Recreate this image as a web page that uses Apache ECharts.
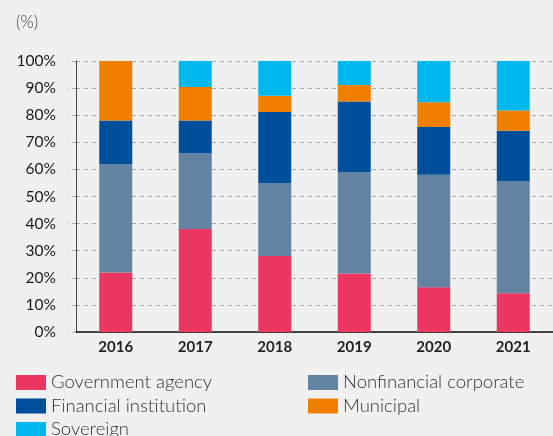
<!DOCTYPE html>
<html lang="en">
<head>
    <meta charset="UTF-8">
    <title>Share by issuer type</title>
    <script src="https://cdn.jsdelivr.net/npm/echarts@6/dist/echarts.min.js"></script>
    <style>
        html, body { margin: 0; padding: 0; background: #f0f0f0; }
        #chart { width: 553px; height: 436px; }
    </style>
</head>
<body>
    <div id="chart"></div>
    <script>
        var years = ['2016', '2017', '2018', '2019', '2020', '2021'];
        var govAgency = [22, 38, 28, 21.6, 16.5, 14.3];
        var nonfinCorp = [40, 28, 27, 37.4, 41.5, 41.4];
        var finInst = [16, 12, 26.2, 26.1, 17.6, 18.6];
        var municipal = [22, 12.4, 6, 6, 9.2, 7.4];
        var sovereign = [0, 9.6, 12.8, 8.9, 15.2, 18.3];
        var yTicks = ['0%', '10%', '20%', '30%', '40%', '50%', '60%', '70%', '80%', '90%', '100%'];

        var legendText = { fontFamily: 'Lato', fontSize: 18.5, fontWeight: 300, color: '#333' };

        function makeSeries(name, data, color) {
            return {
                name: name,
                type: 'bar',
                stack: 'total',
                barWidth: 33,
                data: data,
                itemStyle: { color: color },
                emphasis: { disabled: true }
            };
        }

        var chart = echarts.init(document.getElementById('chart'));
        var option = {
            backgroundColor: '#f0f0f0',
            animation: false,
            title: {
                text: '(%)',
                left: 11,
                top: 9,
                textStyle: { fontFamily: 'Lato', fontSize: 17, fontWeight: 300, color: '#444' }
            },
            legend: [{
                orient: 'vertical',
                left: 16,
                top: 373,
                height: 90,
                padding: 0,
                itemWidth: 30,
                itemHeight: 15,
                itemGap: 4.5,
                icon: 'rect',
                textStyle: legendText,
                data: ['Government agency', 'Financial institution', 'Sovereign']
            }, {
                orient: 'vertical',
                left: 308,
                top: 373,
                height: 90,
                padding: 0,
                itemWidth: 30,
                itemHeight: 15,
                itemGap: 4.5,
                icon: 'rect',
                textStyle: legendText,
                data: ['Nonfinancial corporate', 'Municipal']
            }],
            grid: { left: 76, top: 61, bottom: 104, width: 488 },
            xAxis: {
                type: 'category',
                data: years,
                axisLine: { lineStyle: { color: '#111', width: 1.5 } },
                axisTick: { show: false },
                axisLabel: { margin: 8, fontFamily: 'Lato', fontSize: 15, fontWeight: 'bold', color: '#222' }
            },
            yAxis: {
                type: 'value',
                min: 0,
                max: 100,
                interval: 10,
                axisLine: { show: true, lineStyle: { color: '#444', width: 1 } },
                axisTick: { show: true, length: 9, lineStyle: { color: '#aaa', type: [4, 4] } },
                splitLine: { lineStyle: { color: '#aaa', type: [4, 4] } },
                axisLabel: {
                    margin: 20,
                    fontFamily: 'Lato',
                    fontSize: 15.5,
                    color: '#1a1a1a',
                    formatter: function (v) { return yTicks[Math.round(v / 10)]; }
                }
            },
            series: [
                makeSeries('Government agency', govAgency, '#eb3660'),
                makeSeries('Nonfinancial corporate', nonfinCorp, '#6283a1'),
                makeSeries('Financial institution', finInst, '#004f9d'),
                makeSeries('Municipal', municipal, '#f07f00'),
                makeSeries('Sovereign', sovereign, '#00b7ee')
            ]
        };
        chart.setOption(option);
    </script>
</body>
</html>
